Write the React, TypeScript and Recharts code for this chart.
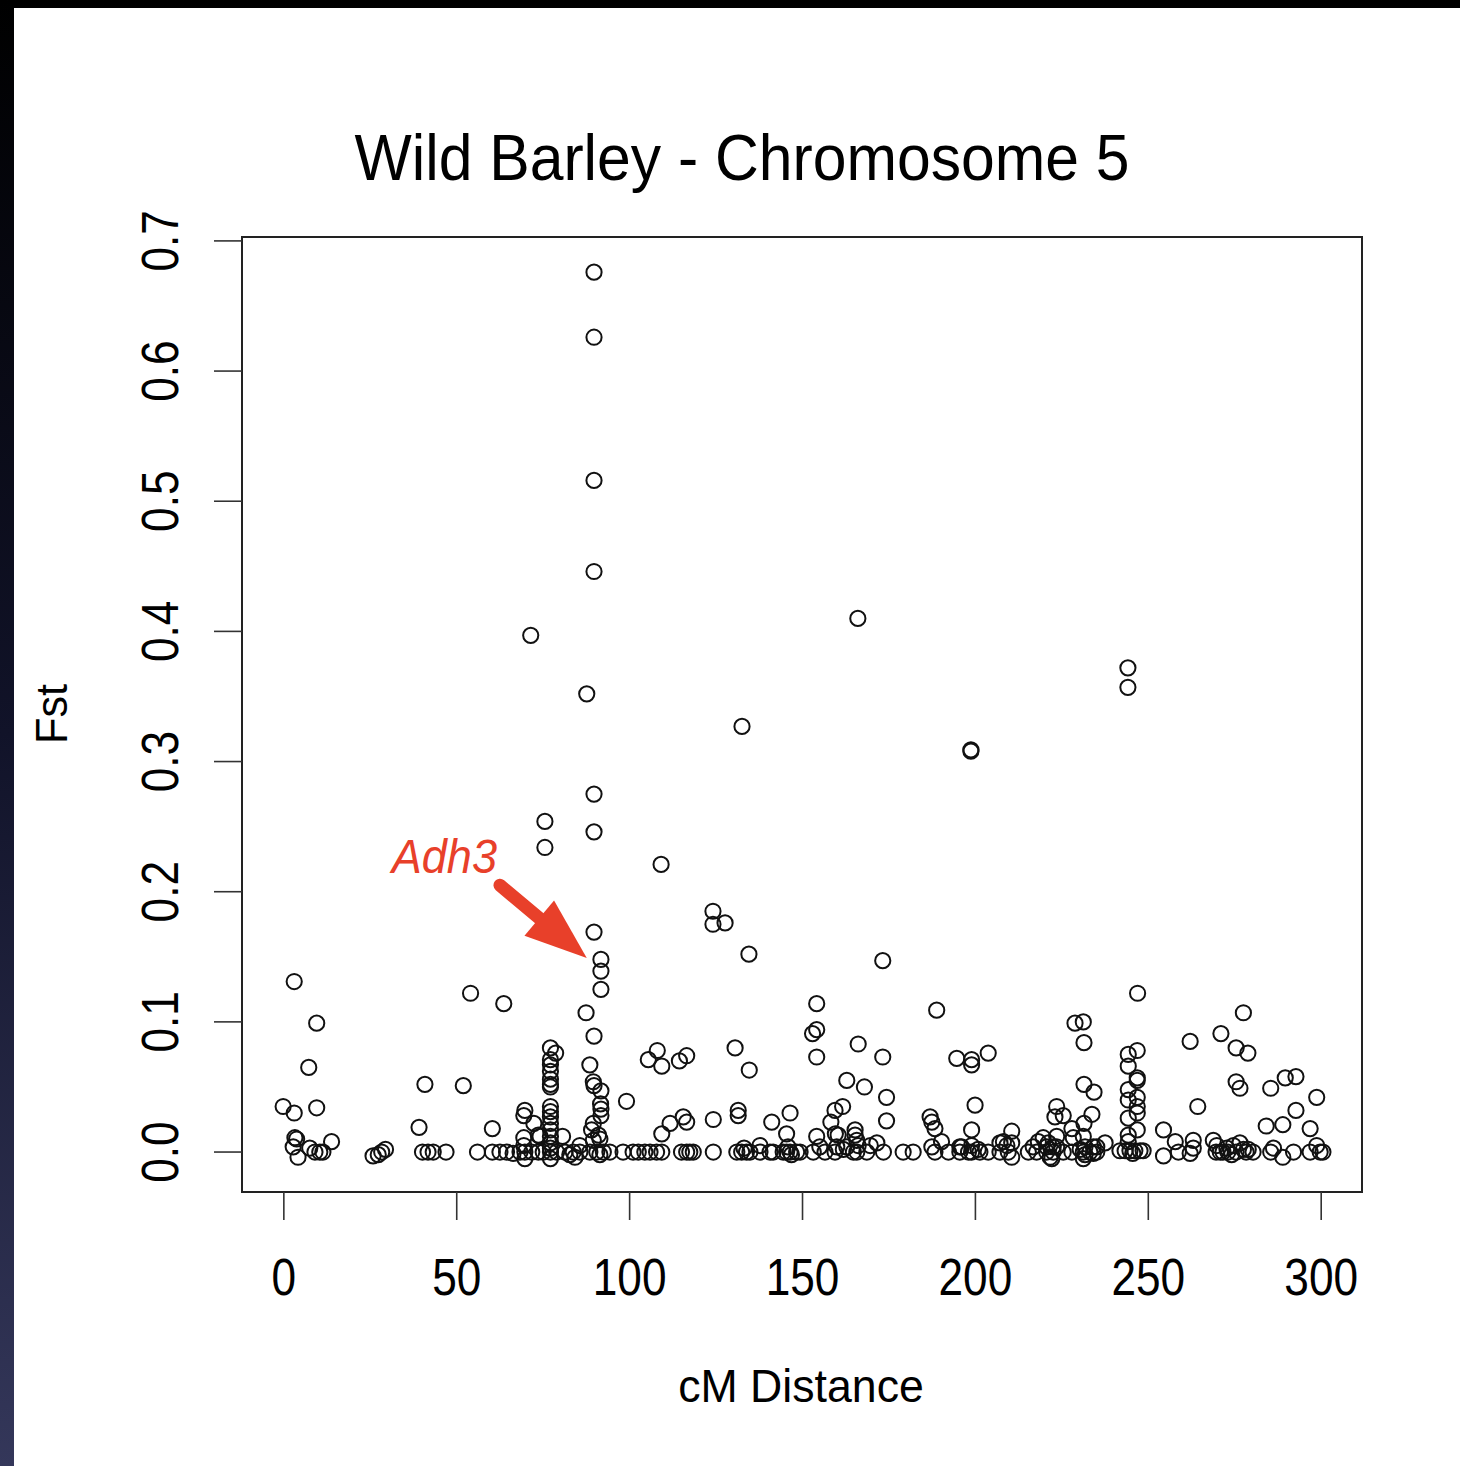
import { ReferenceArea, ReferenceLine, Scatter, ScatterChart, XAxis, YAxis } from 'recharts';

const FONT = '"Liberation Sans", Arial, Helvetica, sans-serif';
const INK = '#111';
const RED = '#e8402a';

const X_DOMAIN = [-12.1, 311.8];
const Y_DOMAIN = [-0.0307, 0.703];
const X_TICKS = [0, 50, 100, 150, 200, 250, 300];
const Y_TICKS = [0, 0.1, 0.2, 0.3, 0.4, 0.5, 0.6, 0.7];

// [cM, Fst], grouped by stretch of the chromosome
const REGION_0_30 = [
  [-0.2, 0.035], [3.0, 0.131], [9.5, 0.099], [7.2, 0.065], [9.5, 0.034], [3.0, 0.030], [3.2, 0.011], [3.7, 0.010],
  [2.7, 0.004], [4.1, -0.004], [7.5, 0.003], [9.0, 0.0], [10.4, 0.0], [11.3, 0.0], [13.8, 0.008],
  [25.8, -0.003], [27.3, -0.002], [28.3, 0.0], [29.4, 0.002],
];

const REGION_30_68 = [
  [40.8, 0.052], [39.1, 0.019], [40.1, 0.0], [41.7, 0.0], [43.2, 0.0], [46.9, 0.0],
  [54.0, 0.122], [63.6, 0.114], [51.9, 0.051], [60.3, 0.018], [56.0, 0.0], [60.3, 0.0], [62.5, 0.0], [64.4, 0.0], [66.3, -0.001],
];

const REGION_68_86 = [
  [71.4, 0.397], [75.5, 0.254], [75.5, 0.234],
  [69.7, 0.032], [69.4, 0.028], [72.3, 0.022], [73.6, 0.013], [69.4, 0.011], [69.4, 0.005], [74.1, 0.012],
  [77.1, 0.080], [78.6, 0.076], [77.1, 0.071], [77.1, 0.067], [77.1, 0.062], [77.1, 0.056], [77.1, 0.052], [77.1, 0.050],
  [77.1, 0.035], [77.1, 0.031], [77.1, 0.027], [77.1, 0.022], [77.1, 0.017], [77.1, 0.012], [77.1, 0.007], [77.1, 0.003],
  [80.6, 0.012], [85.6, 0.005],
  [68.3, 0.0], [69.7, 0.0], [71.7, 0.0], [73.6, 0.0], [75.0, 0.0], [77.1, 0.0], [78.9, 0.0], [81.3, 0.0], [83.7, 0.0], [85.6, 0.0],
  [69.7, -0.005], [77.1, -0.005], [82.7, -0.002], [84.2, -0.004],
];

const PEAK_90 = [
  [89.7, 0.676], [89.7, 0.626], [89.7, 0.516], [89.7, 0.446], [87.6, 0.352], [89.7, 0.275], [89.7, 0.246], [89.7, 0.169],
  [91.7, 0.148], [91.7, 0.139], [91.7, 0.125], [87.4, 0.107], [89.7, 0.089], [88.5, 0.067], [89.5, 0.054], [89.7, 0.051],
  [91.7, 0.047], [91.6, 0.037], [91.7, 0.033], [91.7, 0.028], [89.5, 0.022], [89.0, 0.017], [91.0, 0.013], [91.4, 0.010],
  [89.5, 0.009], [88.5, 0.0], [90.5, 0.0], [92.4, 0.0], [94.3, 0.0], [91.4, -0.002],
];

const REGION_95_150 = [
  [98.1, 0.0], [101.0, 0.0], [102.5, 0.0], [104.4, 0.0], [105.9, 0.0], [107.8, 0.0], [109.3, 0.0], [115.0, 0.0],
  [116.5, 0.0], [117.4, 0.0], [118.4, 0.0], [124.2, 0.0], [131.0, 0.0], [132.4, 0.0], [133.8, 0.0], [134.8, 0.0],
  [137.7, 0.0], [140.6, 0.0], [141.5, 0.0], [144.4, 0.0], [145.4, 0.0], [146.4, 0.0], [148.3, 0.0],
  [137.7, 0.005], [133.1, 0.003], [145.8, 0.004], [146.8, -0.002],
  [99.1, 0.039], [105.4, 0.071], [108.0, 0.078], [109.3, 0.066], [114.4, 0.070], [116.5, 0.074], [109.1, 0.221],
  [109.3, 0.014], [111.7, 0.022], [115.5, 0.027], [116.5, 0.023],
  [124.1, 0.185], [124.1, 0.175], [127.6, 0.176], [134.5, 0.152], [132.5, 0.327], [130.5, 0.080], [134.6, 0.063],
  [131.4, 0.032], [131.4, 0.028], [124.2, 0.025], [141.1, 0.023], [146.4, 0.030], [145.4, 0.014],
];

const REGION_150_185 = [
  [166.0, 0.410], [173.2, 0.147],
  [154.1, 0.114], [154.1, 0.094], [152.9, 0.091], [154.1, 0.073], [166.1, 0.083], [173.2, 0.073], [162.8, 0.055],
  [167.9, 0.050], [174.3, 0.042], [174.3, 0.024],
  [154.1, 0.012], [158.2, 0.023], [159.4, 0.032], [161.6, 0.035], [160.3, 0.013], [165.2, 0.017], [165.2, 0.013],
  [165.7, 0.009], [166.1, 0.005], [164.7, 0.0], [159.5, 0.014], [161.8, 0.002], [171.5, 0.007], [169.6, 0.005],
  [149.3, 0.0], [153.1, 0.0], [156.5, 0.0], [159.4, 0.0], [165.7, 0.0], [168.6, 0.0], [173.4, 0.0], [179.1, 0.0], [182.0, 0.0],
  [155.0, 0.004], [159.9, 0.004], [162.8, 0.004],
];

const REGION_185_215 = [
  [188.8, 0.109], [194.6, 0.072], [198.9, 0.071], [198.9, 0.067], [203.7, 0.076], [199.9, 0.036], [198.7, 0.309], [198.7, 0.308],
  [186.9, 0.027], [187.4, 0.023], [188.3, 0.018], [190.2, 0.008], [198.9, 0.017], [208.1, 0.008], [210.5, 0.016], [210.5, 0.007],
  [196.0, 0.004], [198.9, 0.005], [200.8, 0.002], [207.1, 0.007], [209.1, 0.005], [210.5, -0.004], [187.4, 0.004], [195.5, 0.004],
  [188.3, 0.0], [192.2, 0.0], [195.5, 0.0], [198.0, 0.0], [198.9, 0.0], [201.3, 0.0], [203.7, 0.0], [207.1, 0.0], [209.5, 0.0],
];

const REGION_215_240 = [
  [231.2, 0.100], [228.8, 0.099], [231.4, 0.084], [231.4, 0.052], [234.3, 0.046], [233.7, 0.029], [231.4, 0.022],
  [223.5, 0.035], [223.0, 0.027], [225.4, 0.028], [227.9, 0.018], [228.3, 0.011], [218.2, 0.008], [219.6, 0.011],
  [221.1, 0.007], [223.5, 0.012], [221.6, -0.004],
  [231.2, 0.012], [230.3, 0.002], [231.7, -0.002], [234.1, -0.001], [235.1, 0.004], [237.5, 0.007],
  [215.3, 0.0], [217.7, 0.0], [220.6, 0.0], [222.5, 0.0], [225.4, 0.0], [227.9, 0.0], [231.2, 0.0], [233.1, 0.0], [235.1, 0.0],
  [216.7, 0.004], [220.6, 0.004], [222.5, 0.004], [223.5, 0.004], [231.7, 0.004], [234.1, 0.004],
  [222.1, -0.005], [231.2, -0.005],
];

const PEAK_245 = [
  [244.1, 0.372], [244.1, 0.357], [246.9, 0.122],
  [244.2, 0.075], [246.8, 0.078], [244.2, 0.066], [246.8, 0.057], [246.8, 0.055], [244.2, 0.048], [244.2, 0.040],
  [246.8, 0.042], [246.8, 0.035], [246.8, 0.030], [244.2, 0.026], [246.8, 0.017], [244.2, 0.013], [244.2, 0.008],
  [241.8, 0.001], [243.3, 0.001], [244.7, 0.001], [246.1, 0.001], [247.6, 0.001], [248.5, 0.001], [245.5, -0.001],
];

const REGION_250_301 = [
  [254.4, 0.017], [257.8, 0.008], [254.4, -0.003], [258.7, 0.0], [262.1, 0.085], [264.3, 0.035], [271.0, 0.091],
  [275.4, 0.080], [278.8, 0.076], [277.5, 0.107], [275.4, 0.054], [276.5, 0.049], [285.4, 0.049], [289.6, 0.057],
  [292.7, 0.058], [298.7, 0.042], [292.7, 0.032], [284.1, 0.020], [288.9, 0.021], [296.8, 0.018],
  [263.0, 0.009], [263.0, 0.003], [262.1, -0.001], [268.8, 0.009], [269.8, 0.005], [270.8, 0.0], [272.7, 0.003],
  [274.6, 0.005], [276.5, 0.007], [277.5, 0.002], [278.9, 0.002], [274.1, -0.002],
  [269.6, 0.0], [271.6, 0.0], [273.0, 0.0], [275.4, 0.0], [278.3, 0.0], [280.3, 0.0],
  [286.2, 0.003], [285.4, 0.0], [288.9, -0.004], [292.0, 0.0], [296.8, 0.0], [298.7, 0.005], [299.7, 0.0], [300.5, 0.0],
];

// Adh3 arrow, tail and tip in data units
const ARROW = [
  { x: 62.5, y: 0.205 },
  { x: 87.6, y: 0.149 },
];

const points = [
  ...REGION_0_30,
  ...REGION_30_68,
  ...REGION_68_86,
  ...PEAK_90,
  ...REGION_95_150,
  ...REGION_150_185,
  ...REGION_185_215,
  ...REGION_215_240,
  ...PEAK_245,
  ...REGION_250_301,
].map(([cm, fst]) => ({ cm, fst }));

function Ring(props: any) {
  if (props.cx == null || props.cy == null) return null;
  return <circle cx={props.cx} cy={props.cy} r={7.6} fill="none" stroke={INK} strokeWidth={2} />;
}

function XTick({ x, y, payload }: any) {
  return (
    <g transform={`translate(${x},${y}) scale(0.85,1)`}>
      <text textAnchor="middle" fontSize={52} fontFamily={FONT} fill="#000">
        {payload.value}
      </text>
    </g>
  );
}

function YTick({ x, y, payload }: any) {
  return (
    <g transform={`translate(${x},${y}) rotate(-90) scale(0.85,1)`}>
      <text textAnchor="middle" fontSize={52} fontFamily={FONT} fill="#000">
        {Number(payload.value).toFixed(1)}
      </text>
    </g>
  );
}

function AdhArrow(props: any) {
  const { x1, y1, x2, y2 } = props;
  if ([x1, y1, x2, y2].some((v) => v == null || Number.isNaN(v))) return null;
  const len = Math.hypot(x2 - x1, y2 - y1);
  const ux = (x2 - x1) / len;
  const uy = (y2 - y1) / len;
  const bx = x2 - ux * 62;
  const by = y2 - uy * 62;
  const half = 23;
  return (
    <g>
      <line x1={x1} y1={y1} x2={bx + ux * 4} y2={by + uy * 4} stroke={RED} strokeWidth={13} strokeLinecap="round" />
      <polygon
        points={`${x2},${y2} ${bx - uy * half},${by + ux * half} ${bx + uy * half},${by - ux * half}`}
        fill={RED}
      />
      <g transform={`translate(${x1 - 3},${y1 - 12}) scale(0.92,1)`}>
        <text textAnchor="end" fontSize={49} fontStyle="italic" fontFamily={FONT} fill={RED}>
          Adh3
        </text>
      </g>
    </g>
  );
}

export default function App() {
  return (
    <div
      style={{
        position: 'relative',
        width: 1460,
        height: 1466,
        overflow: 'hidden',
        background: 'linear-gradient(180deg, #000 0%, #111329 50%, #34375a 100%)',
      }}
    >
      <style>{'body{margin:0}'}</style>
      <div style={{ position: 'absolute', left: 14, top: 8, right: 0, bottom: 0, background: '#fff' }} />

      <svg width={1460} height={1466} style={{ position: 'absolute', left: 0, top: 0 }}>
        <g transform="translate(742,180) scale(0.933,1)">
          <text textAnchor="middle" fontSize={65} fontFamily={FONT} fill="#000">
            Wild Barley - Chromosome 5
          </text>
        </g>
        <g transform="translate(801,1402) scale(0.95,1)">
          <text textAnchor="middle" fontSize={47} fontFamily={FONT} fill="#000">
            cM Distance
          </text>
        </g>
        <g transform="translate(67,714) rotate(-90) scale(0.96,1)">
          <text textAnchor="middle" fontSize={45} fontFamily={FONT} fill="#000">
            Fst
          </text>
        </g>
      </svg>

      <div style={{ position: 'absolute', left: 0, top: 0 }}>
        <ScatterChart width={1460} height={1466} margin={{ top: 237, right: 98, bottom: 0, left: 0 }}>
          <XAxis
            type="number"
            dataKey="cm"
            domain={X_DOMAIN}
            ticks={X_TICKS}
            interval={0}
            allowDataOverflow
            height={274}
            axisLine={false}
            tickLine={{ stroke: '#333', strokeWidth: 1.6 }}
            tickSize={28}
            tickMargin={75}
            tick={<XTick />}
          />
          <YAxis
            type="number"
            dataKey="fst"
            domain={Y_DOMAIN}
            ticks={Y_TICKS}
            interval={0}
            allowDataOverflow
            width={242}
            axisLine={false}
            tickLine={{ stroke: '#333', strokeWidth: 1.6 }}
            tickSize={28}
            tickMargin={36}
            tick={<YTick />}
          />
          <ReferenceArea
            x1={X_DOMAIN[0]}
            x2={X_DOMAIN[1]}
            y1={Y_DOMAIN[0]}
            y2={Y_DOMAIN[1]}
            fill="none"
            fillOpacity={0}
            stroke="#222"
            strokeWidth={2}
            ifOverflow="visible"
          />
          <Scatter data={points} shape={<Ring />} isAnimationActive={false} />
          <ReferenceLine segment={ARROW} shape={AdhArrow} ifOverflow="visible" />
        </ScatterChart>
      </div>
    </div>
  );
}
